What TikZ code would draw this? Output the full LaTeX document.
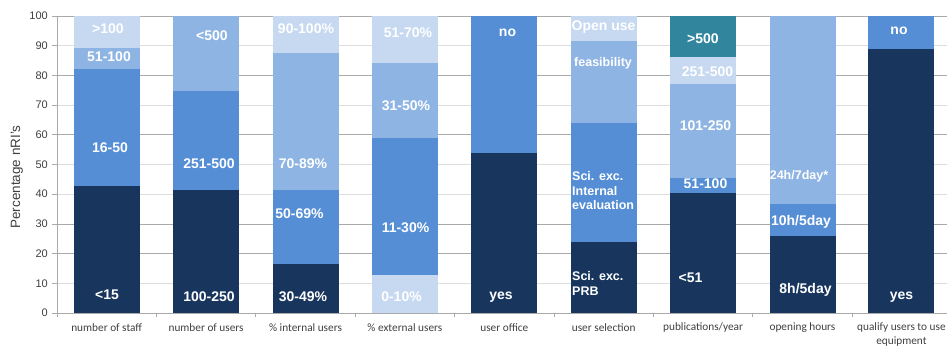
\documentclass[tikz,border=0pt]{standalone}
\usepackage{fontspec}
\setmainfont{Liberation Sans}
\newfontfamily\calib{Carlito}
\definecolor{cDark}{RGB}{24,54,93}
\definecolor{cMid}{RGB}{85,142,213}
\definecolor{cLight}{RGB}{142,180,227}
\definecolor{cPale}{RGB}{198,217,241}
\definecolor{cTeal}{RGB}{49,133,156}
\definecolor{gridD}{RGB}{170,170,170}
\definecolor{gridL}{RGB}{222,222,222}
\definecolor{axtxt}{RGB}{64,64,64}
\newcommand\barseg[4]{\fill[#4] ({#1-33},#2) rectangle ({#1+33},#3);}
\begin{document}
\begin{tikzpicture}[x=1pt,y=2.97pt,
  lab/.style={text=white,font=\fontsize{14}{14}\selectfont\bfseries,inner sep=0pt},
  labs/.style={text=white,font=\fontsize{12.5}{14.5}\selectfont\bfseries,inner sep=0pt},
  ticklab/.style={text=axtxt,font=\fontsize{11}{11}\selectfont,inner sep=0pt,anchor=east},
  catlab/.style={text=axtxt,font=\calib\fontsize{11.3}{14}\selectfont,inner sep=0pt,align=center}]
\useasboundingbox (0pt,-33pt) rectangle (947pt,313pt);
\fill[white] (0pt,-33pt) rectangle (947pt,313pt);
% grid
\foreach \v in {10,40,50,70,90}{\draw[gridL,line width=0.8pt] (57,\v) -- (947,\v);}
\foreach \v in {20,30,60,80,100}{\draw[gridD,line width=0.8pt] (57,\v) -- (947,\v);}
% bars
% 1 staff
\barseg{106.7}{0}{42.8}{cDark}
\barseg{106.7}{42.8}{82.0}{cMid}
\barseg{106.7}{82.0}{89.3}{cLight}
\barseg{106.7}{89.3}{100}{cPale}
% 2 users
\barseg{206.1}{0}{41.4}{cDark}
\barseg{206.1}{41.4}{74.9}{cMid}
\barseg{206.1}{74.9}{100}{cLight}
% 3 internal
\barseg{305.5}{0}{16.5}{cDark}
\barseg{305.5}{16.5}{41.4}{cMid}
\barseg{305.5}{41.4}{87.6}{cLight}
\barseg{305.5}{87.6}{100}{cPale}
% 4 external
\barseg{405.4}{0}{12.8}{cPale}
\barseg{405.4}{12.8}{59.0}{cMid}
\barseg{405.4}{59.0}{84.1}{cLight}
\barseg{405.4}{84.1}{100}{cPale}
% 5 user office
\barseg{504.3}{0}{53.8}{cDark}
\barseg{504.3}{53.8}{100}{cMid}
% 6 user selection
\barseg{603.7}{0}{23.8}{cDark}
\barseg{603.7}{23.8}{64.1}{cMid}
\barseg{603.7}{64.1}{91.6}{cLight}
\barseg{603.7}{91.6}{100}{cPale}
% 7 publications
\barseg{702.6}{0}{40.5}{cDark}
\barseg{702.6}{40.5}{45.3}{cMid}
\barseg{702.6}{45.3}{77.1}{cLight}
\barseg{702.6}{77.1}{86.3}{cPale}
\barseg{702.6}{86.3}{100}{cTeal}
% 8 opening hours
\barseg{802.5}{0}{26.0}{cDark}
\barseg{802.5}{26.0}{36.7}{cMid}
\barseg{802.5}{36.7}{100}{cLight}
% 9 qualify
\barseg{901.4}{0}{88.8}{cDark}
\barseg{901.4}{88.8}{100}{cMid}
% axes
\draw[gridD,line width=0.8pt] (57,0) -- (947,0);
\draw[gridD,line width=0.8pt] (57,0) -- (57,100);
\foreach \v in {0,10,...,100}{
  \draw[gridD,line width=0.8pt] (52,\v) -- (57,\v);
  \node[ticklab] (t\v) at (48,\v) {\v};
}
\foreach \k in {0,...,8}{\draw[gridD,line width=0.8pt] ({57+99.4*\k},0) -- ({57+99.4*\k},-1.4);}
\node[rotate=90,text=axtxt,font=\fontsize{13.5}{14}\selectfont,inner sep=0pt] (ylab) at (17,45.8) {Percentage nRI's};
% category labels
\node[catlab] (c1) at (106.7,-5.0) {number of staff};
\node[catlab] (c2) at (206.1,-5.0) {number of users};
\node[catlab] (c3) at (305.5,-5.0) {\% internal users};
\node[catlab] (c4) at (404.9,-5.0) {\% external users};
\node[catlab] (c5) at (504.3,-5.0) {user office};
\node[catlab] (c6) at (603.7,-5.0) {user selection};
\node[catlab] (c7) at (703.1,-5.0) {publications/year};
\node[catlab] (c8) at (802.5,-5.0) {opening hours};
\node[catlab] (c9) at (901.4,-7.4) {qualify users to use\\equipment};
% bar labels
\node[lab] (a1) at (107,6.1) {<15};
\node[lab] (a2) at (110,55.6) {16-50};
\node[lab] (a3) at (109,86.2) {51-100};
\node[lab] (a4) at (108,95.6) {>100};
\node[lab] (b1) at (209,5.4) {100-250};
\node[lab] (b2) at (209,50.2) {251-500};
\node[lab] (b3) at (212,93.3) {<500};
\node[lab] (d1) at (303,5.4) {30-49\%};
\node[lab] (d2) at (299.5,33.3) {50-69\%};
\node[lab] (d3) at (303,50.2) {70-89\%};
\node[lab] (d4) at (306,95.6) {90-100\%};
\node[lab] (e1) at (401.5,5.4) {0-10\%};
\node[lab] (e2) at (405.5,28.6) {11-30\%};
\node[lab] (e3) at (406,69.7) {31-50\%};
\node[lab] (e4) at (408,94.3) {51-70\%};
\node[lab] (f1) at (501,5.4) {yes};
\node[lab] (f2) at (507.5,94.3) {no};
\begin{scope}
\clip (570.7,0) rectangle (636.7,100);
\node[labs,anchor=west,align=left] (g1) at (572,9.9) {Sci. exc.\\PRB};
\node[labs,anchor=west,align=left] (g2) at (572,41.1) {Sci. exc.\\Internal\\evaluation};
\node[labs,anchor=west] (g3) at (574,84.2) {feasibility};
\node[lab,anchor=west] (g4) at (571.5,96.3) {Open use};
\end{scope}
\node[lab] (h1) at (690.5,11.8) {<51};
\node[lab] (h2) at (705.5,43.4) {51-100};
\node[lab] (h3) at (705.5,63) {101-250};
\node[lab] (h4) at (707.5,81.1) {251-500};
\node[lab] (h5) at (703,92.3) {>500};
\node[lab] (i1) at (805.5,7.7) {8h/5day};
\node[lab] (i2) at (801,30.6) {10h/5day};
\node[labs] (i3) at (799,46.1) {24h/7day*};
\node[lab] (j1) at (901.5,5.4) {yes};
\node[lab] (j2) at (899,95) {no};
\end{tikzpicture}
\end{document}
